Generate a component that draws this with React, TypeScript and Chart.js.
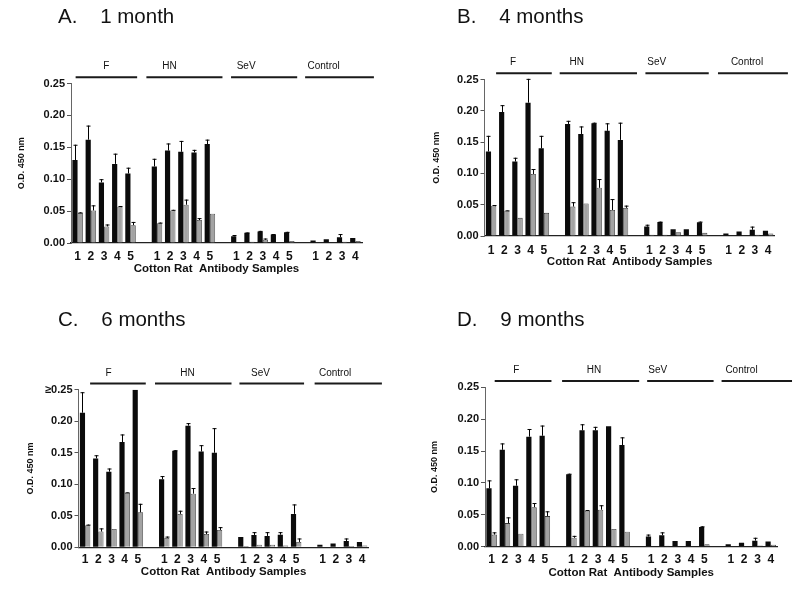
import React, { useEffect, useRef } from "react";
import { Chart, registerables } from "chart.js";

Chart.register(...registerables);

const FONT = '"Liberation Sans", Arial, Helvetica, sans-serif';

// ---------- shared categories ----------
const sampleLabels = ["1", "2", "3", "4", "5", "", "1", "2", "3", "4", "5", "", "1", "2", "3", "4", "5", "", "1", "2", "3", "4"];
const groupNames = ["F", "HN", "SeV", "Control"];
const yTickValues = [0, 0.05, 0.1, 0.15, 0.2, 0.25];
const xAxisTitle = "Cotton Rat  Antibody Samples";
const yAxisTitle = "O.D. 450 nm";

// ---------- A. 1 month ----------
const m1Black = [0.130, 0.162, 0.095, 0.124, 0.109, null, 0.120, 0.145, 0.143, 0.142, 0.155, null, 0.0105, 0.016, 0.018, 0.0135, 0.017, null, 0.004, 0.006, 0.009, 0.008];
const m1BlackSD = [0.024, 0.022, 0.005, 0.016, 0.009, null, 0.012, 0.011, 0.017, 0.004, 0.007, null, 0.002, 0.0005, 0.001, 0.0005, 0.0005, null, 0, 0, 0.005, 0];
const m1Gray = [0.047, 0.051, 0.026, 0.057, 0.028, null, 0.031, 0.051, 0.060, 0.036, 0.046, null, 0, 0.002, 0.005, 0, 0.003, null, 0, 0, 0.002, 0.003];
const m1GraySD = [0.001, 0.008, 0.003, 0.001, 0.005, null, 0.001, 0.001, 0.008, 0.003, 0, null, 0, 0, 0.002, 0, 0, null, 0, 0, 0, 0];

// ---------- B. 4 months ----------
const m4Black = [0.135, 0.198, 0.119, 0.213, 0.140, null, 0.179, 0.163, 0.180, 0.168, 0.1535, null, 0.015, 0.0225, 0.0107, 0.0107, 0.022, null, 0.004, 0.007, 0.010, 0.0085];
const m4BlackSD = [0.025, 0.011, 0.006, 0.038, 0.020, null, 0.005, 0.012, 0.001, 0.012, 0.0275, null, 0.003, 0.0005, 0, 0, 0.001, null, 0, 0, 0.005, 0];
const m4Gray = [0.0485, 0.0405, 0.029, 0.099, 0.037, null, 0.047, 0.052, 0.077, 0.0415, 0.045, null, 0.002, 0.002, 0.006, 0, 0.005, null, 0, 0, 0.002, 0.004];
const m4GraySD = [0.001, 0.0005, 0, 0.008, 0, null, 0.007, 0, 0.014, 0.0175, 0.0035, null, 0, 0, 0, 0, 0, null, 0, 0, 0, 0];

// ---------- C. 6 months ----------
const m6Black = [0.2135, 0.141, 0.120, 0.167, 0.25, null, 0.108, 0.153, 0.193, 0.152, 0.150, null, 0.0164, 0.0196, 0.018, 0.020, 0.053, null, 0.004, 0.006, 0.010, 0.0085];
const m6BlackSD = [0.0325, 0.005, 0.005, 0.012, 0, null, 0.005, 0.001, 0.004, 0.010, 0.039, null, 0, 0.0044, 0.006, 0.004, 0.015, null, 0, 0, 0.004, 0];
const m6Gray = [0.035, 0.025, 0.029, 0.0867, 0.0555, null, 0.015, 0.053, 0.085, 0.021, 0.0275, null, 0.002, 0.004, 0.004, 0.003, 0.0085, null, 0, 0, 0.002, 0.003];
const m6GraySD = [0.001, 0.005, 0, 0.0005, 0.0135, null, 0.002, 0.005, 0.009, 0.004, 0.0045, null, 0, 0, 0, 0, 0.0055, null, 0, 0, 0, 0];

// ---------- D. 9 months ----------
const m9Black = [0.0915, 0.152, 0.0957, 0.1726, 0.174, null, 0.1135, 0.1825, 0.1825, 0.189, 0.1595, null, 0.016, 0.018, 0.009, 0.009, 0.031, null, 0.004, 0.006, 0.0095, 0.008];
const m9BlackSD = [0.0125, 0.010, 0.010, 0.012, 0.016, null, 0.001, 0.0095, 0.0055, 0, 0.012, null, 0.003, 0.0045, 0, 0, 0.001, null, 0, 0, 0.0045, 0];
const m9Gray = [0.019, 0.037, 0.0204, 0.062, 0.048, null, 0.014, 0.0565, 0.058, 0.0277, 0.0235, null, 0, 0.0015, 0, 0, 0.004, null, 0, 0, 0.002, 0.003];
const m9GraySD = [0.0035, 0.009, 0, 0.0065, 0.0075, null, 0.003, 0.001, 0.007, 0, 0, null, 0, 0, 0, 0, 0, null, 0, 0, 0, 0];

// ---------- layout per panel (page coordinates) ----------
const panels = [
  {
    title: "A.    1 month", ox: 0, oy: 0, titleX: 58, titleY: 17.5,
    L: 71, R: 362, T: 83.5, B: 243, yTitleX: 22, xLabelY: 257, xTitleY: 269,
    spans: [[-0.15, 4.5], [5.2, 10.95], [11.6, 16.6], [17.2, 22.4]], labelSlots: [2.16, 6.95, 12.74, 18.6],
    black: m1Black, blackSD: m1BlackSD, gray: m1Gray, graySD: m1GraySD, topLabel: "0.25",
  },
  {
    title: "B.    4 months", ox: 400, oy: 0, titleX: 457, titleY: 17.5,
    L: 484.5, R: 774.7, T: 79.5, B: 236, yTitleX: 437, xLabelY: 251, xTitleY: 262,
    spans: [[0.38, 4.6], [5.2, 11.06], [11.7, 16.5], [17.2, 22.5]], labelSlots: [1.67, 6.5, 12.56, 19.4],
    black: m4Black, blackSD: m4BlackSD, gray: m4Gray, graySD: m4GraySD, topLabel: "0.25",
  },
  {
    title: "C.    6 months", ox: 0, oy: 296, titleX: 58, titleY: 320,
    L: 78.5, R: 368.7, T: 389.7, B: 547.3, yTitleX: 31, xLabelY: 560, xTitleY: 572,
    spans: [[0.38, 4.6], [5.3, 11.1], [11.7, 16.6], [17.4, 22.5]], labelSlots: [1.77, 7.76, 13.3, 18.95],
    black: m6Black, blackSD: m6BlackSD, gray: m6Gray, graySD: m6GraySD, topLabel: "\u22650.25",
  },
  {
    title: "D.    9 months", ox: 400, oy: 296, titleX: 457, titleY: 320,
    L: 485, R: 777.4, T: 387.3, B: 546.7, yTitleX: 435, xLabelY: 560, xTitleY: 573,
    spans: [[0.23, 4.5], [5.3, 11.1], [11.7, 16.7], [17.3, 22.6]], labelSlots: [1.86, 7.7, 12.5, 18.8],
    black: m9Black, blackSD: m9BlackSD, gray: m9Gray, graySD: m9GraySD, topLabel: "0.25",
  },
];

const decorPlugin = {
  id: "panelDecor",
  afterDatasetsDraw(chart: any, _args: any, opts: any) {
    const ctx = chart.ctx;
    const y = chart.scales.y;
    const sds = [opts.blackSD, opts.graySD];
    ctx.save();
    ctx.strokeStyle = "#000";
    ctx.lineWidth = 1;
    [0, 1].forEach((di) => {
      const meta = chart.getDatasetMeta(di);
      const vals = chart.data.datasets[di].data;
      meta.data.forEach((bar: any, j: number) => {
        const v = vals[j];
        const sd = sds[di][j];
        if (v == null || !sd) return;
        const yTop = y.getPixelForValue(v + sd);
        const x = Math.round(bar.x) + 0.5;
        ctx.beginPath();
        ctx.moveTo(x, bar.y);
        ctx.lineTo(x, yTop);
        ctx.moveTo(x - 2, yTop + 0.5);
        ctx.lineTo(x + 2, yTop + 0.5);
        ctx.stroke();
      });
    });
    ctx.restore();
  },
  afterDraw(chart: any, _args: any, opts: any) {
    const ctx = chart.ctx;
    const xs = chart.scales.x;
    const area = chart.chartArea;
    const slot = (xs.right - xs.left) / sampleLabels.length;
    const x0 = xs.left + slot / 2;
    ctx.save();
    // panel title
    ctx.fillStyle = "#111";
    ctx.font = `20.5px ${FONT}`;
    ctx.textAlign = "left";
    ctx.textBaseline = "middle";
    ctx.fillText(opts.title, opts.titleX, opts.titleY);
    // group headers
    ctx.strokeStyle = "#1a1a1a";
    ctx.lineWidth = 2;
    ctx.font = `10px ${FONT}`;
    ctx.textAlign = "center";
    groupNames.forEach((name, g) => {
      const [s, e] = opts.spans[g];
      const ly = area.top - 6.3;
      ctx.beginPath();
      ctx.moveTo(x0 + s * slot, ly);
      ctx.lineTo(x0 + e * slot, ly);
      ctx.stroke();
      ctx.fillText(name, x0 + opts.labelSlots[g] * slot, area.top - 16.8);
    });
    ctx.restore();
  },
};

function Panel({ p }: { p: any }) {
  const ref = useRef<HTMLCanvasElement | null>(null);
  useEffect(() => {
    if (!ref.current) return;
    const W = 400, H = 296;
    const pL = p.yTitleX - p.ox - 5.4;
    const yWidth = p.L - p.ox - pL;
    const xBottom = p.xTitleY - p.oy + 6.9;
    const pB = H - xBottom;
    const xHeight = xBottom - (p.B - p.oy);
    const tickPad = p.xLabelY - p.B - 7.2;
    const chart = new Chart(ref.current, {
      type: "bar",
      data: {
        labels: sampleLabels,
        datasets: [
          { data: p.black, backgroundColor: "#0b0b0b", borderColor: "#000", borderWidth: 0, categoryPercentage: 0.8, barPercentage: 0.98 },
          { data: p.gray, backgroundColor: "#a3a3a3", borderColor: "#3a3a3a", borderWidth: 0.8, categoryPercentage: 0.8, barPercentage: 0.98 },
        ],
      },
      plugins: [decorPlugin],
      options: {
        responsive: false,
        animation: false,
        events: [],
        layout: { padding: { left: pL, right: W - (p.R - p.ox), top: p.T - p.oy, bottom: pB } },
        plugins: {
          legend: { display: false },
          tooltip: { enabled: false },
          panelDecor: {
            title: p.title, titleX: p.titleX - p.ox, titleY: p.titleY - p.oy,
            spans: p.spans, labelSlots: p.labelSlots, blackSD: p.blackSD, graySD: p.graySD,
          },
        } as any,
        scales: {
          x: {
            type: "category",
            offset: true,
            grid: { display: false, drawTicks: false, tickLength: 0 },
            border: { display: true, color: "#222", width: 1.2 },
            ticks: { autoSkip: false, maxRotation: 0, padding: tickPad, color: "#111", font: { family: FONT, size: 12, weight: "bold" } },
            title: { display: true, text: xAxisTitle, padding: 0, color: "#111", font: { family: FONT, size: 11.5, weight: "bold" } },
            afterFit: (s: any) => { s.height = xHeight; },
          },
          y: {
            min: 0,
            max: 0.25,
            afterBuildTicks: (s: any) => { s.ticks = yTickValues.map((v) => ({ value: v })); },
            ticks: {
              padding: 2,
              color: "#111",
              font: { family: FONT, size: 11, weight: "bold" },
              callback: (v: any) => (Math.abs(v - 0.25) < 1e-9 ? p.topLabel : Number(v).toFixed(2)),
            },
            grid: { display: true, drawOnChartArea: false, drawTicks: true, tickLength: 4, color: "#555" },
            border: { display: true, color: "#666", width: 1 },
            title: { display: true, text: yAxisTitle, padding: 0, color: "#111", font: { family: FONT, size: 9, weight: "bold" } },
            afterFit: (s: any) => { s.width = yWidth; },
          },
        },
      } as any,
    });
    return () => chart.destroy();
  }, [p]);
  return (
    <canvas
      ref={ref}
      width={400}
      height={296}
      style={{ position: "absolute", left: p.ox, top: p.oy, width: 400, height: 296 }}
    />
  );
}

export default function App() {
  return (
    <div style={{ position: "absolute", left: 0, top: 0, width: 800, height: 592, background: "#fff" }}>
      {panels.map((p, i) => (
        <Panel key={i} p={p} />
      ))}
    </div>
  );
}
